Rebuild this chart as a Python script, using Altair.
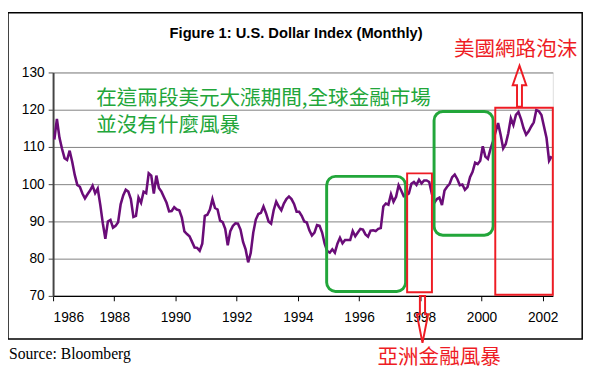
import altair as alt
import pandas as pd

# U.S. Dollar Index, monthly, Jan 1986 .. Apr 2002
start_year = 1986
index_values = [
    112, 117.5, 112.5, 109.5, 107, 106.5, 109, 106, 102.5, 99.8, 99.3, 97.5,          # 1986
    96.2, 97.3, 98.3, 99.6, 97.6, 98.8, 94.5, 89.5, 85.3, 90, 90.4, 88.3,             # 1987
    88.8, 89.8, 94.6, 97, 98.5, 98, 96, 91.2, 91.5, 96.4, 95, 98,                     # 1988
    97.6, 102.9, 102.3, 97.5, 102.3, 99, 98, 96.5, 95, 92.7, 92.8, 93.8,              # 1989
    93.2, 93, 91, 87.3, 86.6, 86, 84.5, 83, 82.9, 82.1, 84, 91.5,                     # 1990
    91.8, 93.2, 96, 93.6, 93.2, 90.2, 89.8, 88, 83.6, 87.4, 88.8, 89.5,               # 1991
    89.4, 87.8, 84.5, 82.5, 79, 81.5, 87, 90.5, 92, 92.3, 94, 92.2,                   # 1992
    90, 89.4, 93, 95.3, 94, 93, 94.8, 96, 96.7, 96, 94.7, 92.6,                       # 1993
    92.6, 91.5, 90, 89.7, 87.6, 86.2, 87, 89, 88.8, 87, 84, 82,                       # 1994
    81.6, 82.5, 81.6, 84, 85.6, 84.1, 85, 85, 85, 87.4, 86, 87,                       # 1995
    88, 87.8, 86.5, 85.9, 87.5, 87.6, 87.4, 88, 88.2, 94, 94.8, 94.5,                 # 1996
    97.3, 95.3, 96.6, 99.7, 98.3, 96.8, 97, 97.5, 100.1, 100.6, 99.8, 101.2,          # 1997
    100.2, 101, 101, 100.6, 97.5, 95, 96, 96.4, 94.4, 98.3, 99.3, 100.1,              # 1998
    101.9, 102.6, 101.4, 99.7, 99.9, 98.5, 99.2, 101.9, 103.3, 105.8, 105.4, 106.3,   # 1999
    110.2, 107.4, 106.8, 109.4, 111.5, 114, 116.4, 113.3, 109.6, 110.8, 113.7, 117.7, # 2000
    115.9, 118.6, 119.4, 117.5, 115, 113.3, 114.2, 115.5, 116.6, 119.9, 119.6, 118.6, # 2001
    115.5, 112.4, 106.3, 107.5,                                                       # 2002
]
year_ticks = [1986, 1988, 1990, 1992, 1994, 1996, 1998, 2000, 2002]
value_ticks = [70, 80, 90, 100, 110, 120, 130]

title_text = "Figure 1:  U.S. Dollar Index (Monthly)"
green_note_1 = "在這兩段美元大漲期間,全球金融市場"
green_note_2 = "並沒有什麼風暴"
red_top_note = "美國網路泡沫"
red_bottom_note = "亞洲金融風暴"
source_text = "Source: Bloomberg"

# highlighted periods (year range, value range)
green_boxes = pd.DataFrame({
    "x0": [1994.94, 1998.45], "x1": [1997.52, 2000.38],
    "y0": [71.2, 86.3], "y1": [102.1, 119.5],
})
red_boxes = pd.DataFrame({
    "x0": [1997.57, 2000.45], "x1": [1998.38, 2002.33],
    "y0": [71.0, 70.3], "y1": [102.9, 120.5],
})

df = pd.DataFrame({
    "year": [start_year + (i + 0.5) / 12 for i in range(len(index_values))],
    "value": index_values,
})

W, H = 510, 228
FONT = "Liberation Sans, Arial, sans-serif"
CJK = "Noto Sans CJK TC, sans-serif"
GREEN = "#22a63a"
RED = "#ee1c24"

xs = alt.Scale(domain=[1986, 2002.33], nice=False, zero=False)
ys = alt.Scale(domain=[70, 130], nice=False, zero=False)
x_axis = alt.Axis(values=year_ticks, format="d", title=None, grid=False,
                  domainColor="black", domainWidth=1.5, tickColor="black",
                  tickSize=5, labelFontSize=14, labelFont=FONT, labelColor="black",
                  labelPadding=10)
y_axis = alt.Axis(values=value_ticks, title=None, grid=True, gridColor="#808080",
                  gridWidth=1, domainColor="#444", domainWidth=2, tickColor="#444",
                  tickSize=5, labelFontSize=14, labelFont=FONT, labelColor="black",
                  labelPadding=4)

one = pd.DataFrame({"k": [0]})

frame = alt.Chart(one).mark_rect(fill=None, stroke="black", strokeWidth=1.5).encode(
    x=alt.value(-46), x2=alt.value(540), y=alt.value(-61), y2=alt.value(272)
)

line = alt.Chart(df).mark_line(color="#6a0c78", strokeWidth=2.6).encode(
    x=alt.X("year:Q", scale=xs, axis=x_axis),
    y=alt.Y("value:Q", scale=ys, axis=y_axis),
)

gbox = alt.Chart(green_boxes).mark_rect(fill=None, stroke=GREEN, strokeWidth=3, cornerRadius=9).encode(
    x=alt.X("x0:Q", scale=xs, axis=x_axis), x2="x1",
    y=alt.Y("y0:Q", scale=ys, axis=y_axis), y2="y1"
)
rbox = alt.Chart(red_boxes).mark_rect(fill=None, stroke=RED, strokeWidth=2).encode(
    x=alt.X("x0:Q", scale=xs, axis=x_axis), x2="x1",
    y=alt.Y("y0:Q", scale=ys, axis=y_axis), y2="y1"
)

title = alt.Chart(one).mark_text(text=title_text, font=FONT, fontSize=15, fontWeight="bold",
                                 align="center", baseline="middle", color="black").encode(
    x=alt.value(248), y=alt.value(-40))

gnote1 = alt.Chart(one).mark_text(text=green_note_1, font=CJK, fontSize=21, align="left",
                                  baseline="middle", color=GREEN).encode(x=alt.value(44), y=alt.value(27))
gnote2 = alt.Chart(one).mark_text(text=green_note_2, font=CJK, fontSize=21, align="left",
                                  baseline="middle", color=GREEN).encode(x=alt.value(44), y=alt.value(55))

rtop = alt.Chart(one).mark_text(text=red_top_note, font=CJK, fontSize=21, align="center",
                                baseline="middle", color=RED).encode(x=alt.value(472), y=alt.value(-23))
rbottom = alt.Chart(one).mark_text(text=red_bottom_note, font=CJK, fontSize=21, align="center",
                                   baseline="middle", color=RED).encode(x=alt.value(394), y=alt.value(292))
src = alt.Chart(one).mark_text(text=source_text, font="Liberation Serif, Times New Roman, serif",
                               fontSize=16, align="left", baseline="middle", color="black").encode(
    x=alt.value(-45), y=alt.value(287))

up_arrow = "M 0 -1 L 0.33 -0.05 L 0.12 -0.05 L 0.12 1 L -0.12 1 L -0.12 -0.05 L -0.33 -0.05 Z"
down_arrow = "M -0.11 -1 L 0.11 -1 L 0.11 -0.22 L 0.24 -0.22 L 0 1 L -0.24 -0.22 L -0.11 -0.22 Z"
arr_up = alt.Chart(one).mark_point(shape=up_arrow, filled=False, stroke=RED, strokeWidth=2,
                                   size=1764, opacity=1).encode(x=alt.value(476), y=alt.value(14))
arr_down = alt.Chart(one).mark_point(shape=down_arrow, filled=False, stroke=RED, strokeWidth=2,
                                     size=2304, opacity=1).encode(x=alt.value(377), y=alt.value(252))

chart = alt.layer(frame, line, gbox, rbox, title, gnote1, gnote2, rtop, rbottom, src, arr_up, arr_down).properties(
    width=W, height=H,
    autosize=alt.AutoSizeParams(type="none"),
    padding={"left": 46, "top": 62, "right": 40, "bottom": 80},
).configure_view(stroke="#8a8a8a", strokeWidth=1).configure(background="white")

chart.save("out.html", embed_options={"renderer": "svg", "actions": False})
